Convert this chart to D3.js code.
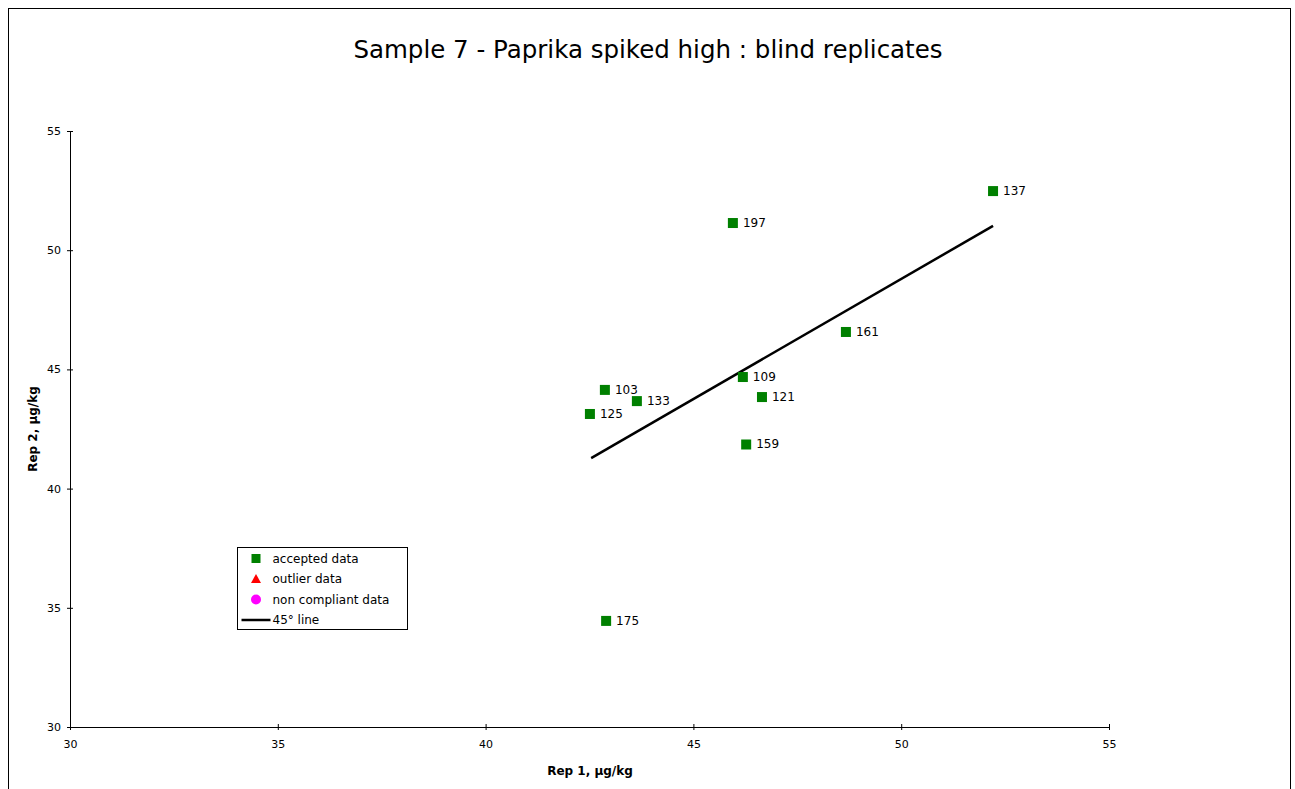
<!DOCTYPE html>
<html><head><meta charset="utf-8">
<script src="https://cdn.jsdelivr.net/npm/d3@7"></script>
<style>body{margin:0;background:#fff;font-family:"DejaVu Sans",Verdana,sans-serif;}</style>
</head><body><svg id="chart" width="1295" height="789"></svg>
<script>
"use strict";

// data
let labs = ["137", "197", "161", "109", "121", "103", "133", "125", "159", "175"];
let rep1 = [52.21, 45.95, 48.67, 46.19, 46.65, 42.87, 43.64, 42.51, 46.27, 42.90];
let rep2 = [52.48, 51.14, 46.57, 44.68, 43.84, 44.14, 43.67, 43.13, 41.85, 34.45];
let lineX = [42.54, 52.21];
let lineY = [41.28, 51.02];
let ticks = [30, 35, 40, 45, 50, 55];

let svg = d3.select("#chart");
svg.append("rect").attr("x", 8.5).attr("y", 8.5).attr("width", 1282).attr("height", 790)
  .attr("fill", "none").attr("stroke", "#000");

let x = d3.scaleLinear().domain([30, 55]).range([70, 1109]);
let y = d3.scaleLinear().domain([30, 55]).range([727, 131]);

svg.append("text").attr("x", 648).attr("y", 58).attr("text-anchor", "middle")
  .style("font-size", "24.5px").text("Sample 7 - Paprika spiked high : blind replicates");

let xAxis = svg.append("g").attr("transform", "translate(0,727)")
  .call(d3.axisBottom(x).tickValues(ticks).tickSize(6).tickSizeOuter(0));
let yAxis = svg.append("g").attr("transform", "translate(70,0)")
  .call(d3.axisLeft(y).tickValues(ticks).tickSize(6).tickSizeOuter(0));
// excel style: ticks cross the axis
xAxis.selectAll(".tick line").attr("y1", -3).attr("y2", 3);
yAxis.selectAll(".tick line").attr("x1", -3).attr("x2", 3);
svg.selectAll(".tick text").style("font-size", "11px").style("font-family", "DejaVu Sans, Verdana");
xAxis.selectAll(".tick text").attr("dy", "1.1em");

svg.append("text").attr("x", 590).attr("y", 775).attr("text-anchor", "middle")
  .style("font-size", "12px").style("font-weight", "bold").text("Rep 1,  µg/kg");
svg.append("text").attr("transform", "translate(37,429) rotate(-90)").attr("text-anchor", "middle")
  .style("font-size", "12px").style("font-weight", "bold").text("Rep 2,  µg/kg");

svg.append("line")
  .attr("x1", x(lineX[0])).attr("y1", y(lineY[0]))
  .attr("x2", x(lineX[1])).attr("y2", y(lineY[1]))
  .attr("stroke", "#000").attr("stroke-width", 2.5);

let pts = svg.append("g").selectAll("g").data(labs).enter().append("g")
  .attr("transform", (d, i) => `translate(${x(rep1[i])},${y(rep2[i])})`);
pts.append("rect").attr("x", -5).attr("y", -5).attr("width", 10).attr("height", 10).attr("fill", "#008000");
pts.append("text").attr("x", 10).attr("y", 4).style("font-size", "12px").text(d => d);

// legend
let lg = svg.append("g").attr("transform", "translate(237.5,547.5)");
lg.append("rect").attr("width", 170).attr("height", 82).attr("fill", "#fff").attr("stroke", "#000");
let items = ["accepted data", "outlier data", "non compliant data", "45° line"];
items.forEach((t, i) => {
  let cy = 11 + i * 20.5;
  if (i === 0) lg.append("rect").attr("x", 14).attr("y", cy - 4.5).attr("width", 9).attr("height", 9).attr("fill", "#008000");
  if (i === 1) lg.append("path").attr("d", `M18.5,${cy - 5}L23.5,${cy + 4}L13.5,${cy + 4}Z`).attr("fill", "#ff0000");
  if (i === 2) lg.append("circle").attr("cx", 18.5).attr("cy", cy).attr("r", 5).attr("fill", "#ff00ff");
  if (i === 3) lg.append("line").attr("x1", 4).attr("x2", 33).attr("y1", cy).attr("y2", cy).attr("stroke", "#000").attr("stroke-width", 2.5);
  lg.append("text").attr("x", 35).attr("y", cy + 4).style("font-size", "12px").text(t);
});
</script></body></html>
